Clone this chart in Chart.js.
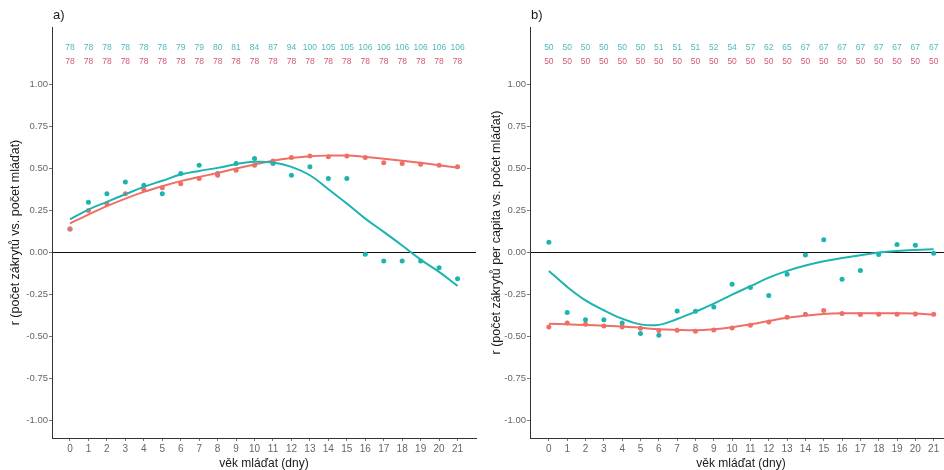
<!DOCTYPE html>
<html>
<head>
<meta charset="utf-8">
<script src="https://cdn.jsdelivr.net/npm/chart.js@4/dist/chart.umd.min.js"></script>
<style>
  html, body { margin: 0; padding: 0; background: #fff; overflow: hidden; }
  #wrap { position: relative; width: 944px; height: 470px; }
  canvas { position: absolute; top: 0; }
</style>
</head>
<body>
<div id="wrap">
  <canvas id="chartA" width="480" height="470" style="left:0px"></canvas>
  <canvas id="chartB" width="484" height="470" style="left:472px"></canvas>
</div>
<script>
const days = [0, 1, 2, 3, 4, 5, 6, 7, 8, 9, 10, 11, 12, 13, 14, 15, 16, 17, 18, 19, 20, 21];
const yTicks = [-1, -0.75, -0.5, -0.25, 0, 0.25, 0.5, 0.75, 1];

// counts shown above each panel
const nA_teal = [78, 78, 78, 78, 78, 78, 79, 79, 80, 81, 84, 87, 94, 100, 105, 105, 106, 106, 106, 106, 106, 106];
const nA_red = [78, 78, 78, 78, 78, 78, 78, 78, 78, 78, 78, 78, 78, 78, 78, 78, 78, 78, 78, 78, 78, 78];
const nB_teal = [50, 50, 50, 50, 50, 50, 51, 51, 51, 52, 54, 57, 62, 65, 67, 67, 67, 67, 67, 67, 67, 67];
const nB_red = [50, 50, 50, 50, 50, 50, 50, 50, 50, 50, 50, 50, 50, 50, 50, 50, 50, 50, 50, 50, 50, 50];

// panel a) correlations
const aTealPts = [0.14, 0.30, 0.35, 0.42, 0.40, 0.35, 0.47, 0.52, 0.47, 0.53, 0.56, 0.53, 0.46, 0.51, 0.44, 0.44, -0.01, -0.05, -0.05, -0.05, -0.09, -0.155];
const aRedPts = [0.14, 0.25, 0.29, 0.35, 0.375, 0.385, 0.41, 0.44, 0.46, 0.49, 0.52, 0.545, 0.565, 0.575, 0.57, 0.575, 0.565, 0.535, 0.53, 0.525, 0.52, 0.51];
const aTealFit = [0.198, 0.256, 0.302, 0.347, 0.391, 0.427, 0.464, 0.486, 0.504, 0.526, 0.540, 0.536, 0.510, 0.460, 0.377, 0.292, 0.202, 0.123, 0.042, -0.042, -0.115, -0.198];
const aRedFit = [0.173, 0.226, 0.276, 0.321, 0.361, 0.395, 0.425, 0.450, 0.474, 0.500, 0.524, 0.546, 0.562, 0.573, 0.577, 0.577, 0.569, 0.558, 0.546, 0.534, 0.520, 0.504];

// panel b) correlations
const bTealPts = [0.062, -0.357, -0.399, -0.399, -0.419, -0.482, -0.492, -0.347, -0.349, -0.323, -0.188, -0.208, -0.256, -0.129, -0.014, 0.077, -0.159, -0.107, -0.012, 0.048, 0.044, -0.004];
const bRedPts = [-0.442, -0.419, -0.427, -0.437, -0.442, -0.450, -0.464, -0.462, -0.468, -0.460, -0.448, -0.433, -0.413, -0.385, -0.367, -0.345, -0.363, -0.369, -0.367, -0.367, -0.365, -0.367];
const bTealFit = [-0.109, -0.204, -0.284, -0.343, -0.393, -0.427, -0.430, -0.395, -0.352, -0.304, -0.250, -0.200, -0.149, -0.109, -0.077, -0.052, -0.032, -0.016, 0.000, 0.010, 0.016, 0.020];
const bRedFit = [-0.423, -0.427, -0.431, -0.435, -0.439, -0.447, -0.456, -0.460, -0.462, -0.456, -0.444, -0.427, -0.407, -0.387, -0.375, -0.365, -0.361, -0.361, -0.361, -0.361, -0.363, -0.369];

const TEAL = '#1cb4b0';
const RED = '#ef6f67';
const FONT = '"Liberation Sans", Arial, sans-serif';

function xy(values) {
    return values.map((v, i) => ({ x: days[i], y: v }));
}

// panel letter and the two rows of counts
const panelText = {
    id: 'panelText',
    afterDraw(chart, args, opts) {
        const ctx = chart.ctx;
        const xs = chart.scales.x;
        const ys = chart.scales.y;
        ctx.save();
        ctx.font = '13px ' + FONT;
        ctx.fillStyle = '#1a1a1a';
        ctx.textAlign = 'left';
        ctx.textBaseline = 'middle';
        ctx.fillText(opts.label, chart.chartArea.left + 1, 15);
        ctx.font = '8.5px ' + FONT;
        ctx.textAlign = 'center';
        opts.rows.forEach(row => {
            ctx.fillStyle = row.color;
            row.values.forEach((v, i) => {
                ctx.fillText(String(v), xs.getPixelForValue(days[i]), ys.getPixelForValue(row.at));
            });
        });
        ctx.restore();
    }
};

function makeChart(id, o) {
    const ctx = document.getElementById(id).getContext('2d');
    return new Chart(ctx, {
        type: 'scatter',
        data: {
            datasets: [
                { type: 'line', data: xy(o.tealFit), borderColor: TEAL, borderWidth: 2, pointRadius: 0, tension: 0.4, fill: false },
                { type: 'line', data: xy(o.redFit), borderColor: RED, borderWidth: 2, pointRadius: 0, tension: 0.4, fill: false },
                { data: xy(o.redPts), backgroundColor: RED, borderWidth: 0, pointRadius: 2.5 },
                { data: xy(o.tealPts), backgroundColor: TEAL, borderWidth: 0, pointRadius: 2.5 }
            ]
        },
        options: {
            responsive: false,
            animation: false,
            layout: { padding: { top: 27, left: 0, right: o.padRight, bottom: 0 } },
            plugins: {
                legend: { display: false },
                tooltip: { enabled: false },
                panelText: {
                    label: o.label,
                    rows: [
                        { values: o.nTeal, color: '#4fbaba', at: 1.222 },
                        { values: o.nRed, color: '#d3587a', at: 1.135 }
                    ]
                }
            },
            scales: {
                x: {
                    type: 'linear',
                    min: o.xMin,
                    max: 22,
                    afterBuildTicks: s => { s.ticks = days.map(d => ({ value: d })); },
                    afterFit: s => { s.height = 32; },
                    border: { display: true, color: '#333', width: 1 },
                    grid: { drawOnChartArea: false, drawTicks: true, tickLength: 3, tickColor: '#777' },
                    ticks: { color: '#666', font: { family: FONT, size: 10 }, padding: 2, maxRotation: 0, autoSkip: false },
                    title: { display: true, text: 'věk mláďat (dny)', color: '#1a1a1a', font: { family: FONT, size: 12, lineHeight: 1 }, padding: { top: 0, bottom: 0 } }
                },
                y: {
                    min: -1.103,
                    max: 1.342,
                    afterBuildTicks: s => { s.ticks = yTicks.map(v => ({ value: v })); },
                    afterFit: s => { s.width = o.yWidth; },
                    border: { display: true, color: '#333', width: 1 },
                    grid: {
                        drawOnChartArea: true,
                        color: c => (c.tick && c.tick.value === 0 ? '#111' : 'rgba(0,0,0,0)'),
                        tickColor: '#777',
                        tickLength: 3
                    },
                    ticks: { color: '#666', font: { family: FONT, size: 9.5 }, padding: 1, callback: v => v.toFixed(2) },
                    title: { display: true, text: o.yTitle, color: '#1a1a1a', font: { family: FONT, size: 12.5 }, padding: { top: o.titlePad, bottom: 0 } }
                }
            }
        },
        plugins: [panelText]
    });
}

makeChart('chartA', {
    label: 'a)', yTitle: 'r (počet zákrytů vs. počet mláďat)',
    tealPts: aTealPts, redPts: aRedPts, tealFit: aTealFit, redFit: aRedFit,
    nTeal: nA_teal, nRed: nA_red,
    xMin: -0.975, yWidth: 52, titlePad: 8, padRight: 3
});

makeChart('chartB', {
    label: 'b)', yTitle: 'r (počet zákrytů per capita vs. počet mláďat)',
    tealPts: bTealPts, redPts: bRedPts, tealFit: bTealFit, redFit: bRedFit,
    nTeal: nB_teal, nRed: nB_red,
    xMin: -1.03, yWidth: 58, titlePad: 17, padRight: 0
});
</script>
</body>
</html>
